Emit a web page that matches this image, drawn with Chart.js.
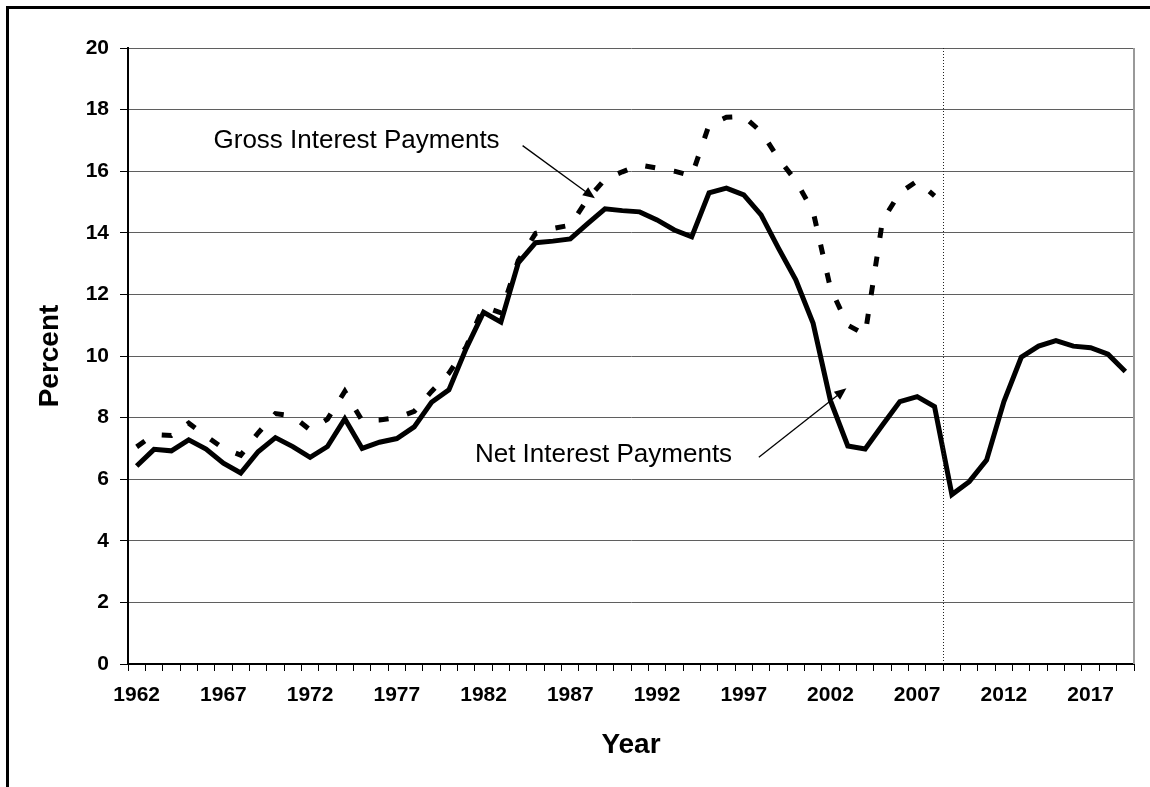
<!DOCTYPE html>
<html>
<head>
<meta charset="utf-8">
<title>Net and Gross Interest Payments</title>
<script src="https://cdn.jsdelivr.net/npm/chart.js@4.4.1/dist/chart.umd.min.js"></script>
<style>
  html, body { margin: 0; padding: 0; background: #fff; }
  #wrap { position: relative; width: 1150px; height: 787px; }
</style>
</head>
<body>
<div id="wrap"><canvas id="interestChart"></canvas></div>
<script>
// categories
var years = ["1962","1963","1964","1965","1966","1967","1968","1969","1970","1971",
             "1972","1973","1974","1975","1976","1977","1978","1979","1980","1981",
             "1982","1983","1984","1985","1986","1987","1988","1989","1990","1991",
             "1992","1993","1994","1995","1996","1997","1998","1999","2000","2001",
             "2002","2003","2004","2005","2006","2007","2008","2009","2010","2011",
             "2012","2013","2014","2015","2016","2017","2018","2019"];

// labels shown under the x axis
var tickYears = ["1962","1967","1972","1977","1982","1987","1992","1997","2002","2007","2012","2017"];

// Net interest payments (percent)
var netInterest = [6.43, 6.97, 6.92, 7.28, 6.98, 6.52, 6.20, 6.89, 7.35, 7.06,
                   6.71, 7.06, 7.96, 7.00, 7.20, 7.32, 7.70, 8.50, 8.90, 10.25,
                   11.42, 11.10, 13.02, 13.68, 13.73, 13.80, 14.30, 14.78, 14.72, 14.68,
                   14.42, 14.09, 13.87, 15.30, 15.45, 15.23, 14.58, 13.50, 12.47, 11.06,
                   8.55, 7.08, 6.98, 7.76, 8.52, 8.68, 8.36, 5.50, 5.92, 6.62,
                   8.52, 9.96, 10.32, 10.50, 10.32, 10.27, 10.06, 9.50];

// Gross interest payments (percent), stops in 2008
var grossInterest = [7.05, 7.45, 7.42, 7.82, 7.40, 7.00, 6.78, 7.50, 8.13, 8.05,
                     7.60, 7.95, 8.85, 7.90, 7.92, 8.00, 8.20, 8.85, 9.44, 10.30,
                     11.60, 11.40, 13.10, 13.98, 14.14, 14.25, 15.10, 15.74, 15.98, 16.20,
                     16.10, 16.00, 15.85, 17.50, 17.75, 17.78, 17.28, 16.42, 15.69, 14.69,
                     12.20, 11.00, 10.70, 14.40, 15.30, 15.68, 15.20, null, null, null,
                     null, null, null, null, null, null, null, null];

var fontFamily = '"Liberation Sans", Arial, Helvetica, sans-serif';

// frame, plot border, 2008/2009 divider and the two labelled arrows
var extras = {
    id: "extras",
    afterDraw: function (chart) {
        var ctx = chart.ctx;
        var area = chart.chartArea;
        var xs = chart.scales.x;
        var ys = chart.scales.y;
        var step = xs.getPixelForValue(1) - xs.getPixelForValue(0);
        function px(idx) { return xs.getPixelForValue(0) + idx * step; }
        function py(v) { return ys.getPixelForValue(v); }

        ctx.save();

        // outer frame (top and left only visible)
        ctx.strokeStyle = "#000";
        ctx.lineWidth = 3;
        ctx.beginPath();
        ctx.moveTo(1150, 7.5);
        ctx.lineTo(7.5, 7.5);
        ctx.lineTo(7.5, 787);
        ctx.stroke();

        // right border of plot
        ctx.strokeStyle = "#999";
        ctx.lineWidth = 2;
        ctx.beginPath();
        ctx.moveTo(area.right, area.top);
        ctx.lineTo(area.right, area.bottom);
        ctx.stroke();

        // dotted divider between 2008 and 2009
        var xd = Math.round(px(46.5)) + 0.5;
        ctx.strokeStyle = "#222";
        ctx.lineWidth = 1;
        ctx.setLineDash([1, 2]);
        ctx.beginPath();
        ctx.moveTo(xd, area.top);
        ctx.lineTo(xd, area.bottom);
        ctx.stroke();
        ctx.setLineDash([]);

        // labels
        ctx.fillStyle = "#000";
        ctx.font = "26px " + fontFamily;
        ctx.textAlign = "left";
        ctx.textBaseline = "alphabetic";
        ctx.fillText("Gross Interest Payments", px(4.43), py(16.75));
        ctx.fillText("Net Interest Payments", px(19.5), py(6.56));

        function arrow(x1, y1, x2, y2) {
            var a = Math.atan2(y2 - y1, x2 - x1);
            var len = 12, w = 5;
            ctx.strokeStyle = "#000";
            ctx.lineWidth = 1.3;
            ctx.beginPath();
            ctx.moveTo(x1, y1);
            ctx.lineTo(x2 - Math.cos(a) * len * 0.8, y2 - Math.sin(a) * len * 0.8);
            ctx.stroke();
            ctx.beginPath();
            ctx.moveTo(x2, y2);
            ctx.lineTo(x2 - Math.cos(a) * len - Math.sin(a) * w, y2 - Math.sin(a) * len + Math.cos(a) * w);
            ctx.lineTo(x2 - Math.cos(a) * len + Math.sin(a) * w, y2 - Math.sin(a) * len - Math.cos(a) * w);
            ctx.closePath();
            ctx.fill();
        }
        arrow(px(22.25), py(16.83), px(26.42), py(15.12));
        arrow(px(35.87), py(6.71), px(40.92), py(8.95));

        ctx.restore();
    }
};

var ctx = document.getElementById("interestChart").getContext("2d");

var myChart = new Chart(ctx, {
    type: "line",
    data: {
        labels: years,
        datasets: [
            {
                label: "Net Interest Payments",
                data: netInterest,
                borderColor: "#000",
                borderWidth: 5,
                pointRadius: 0,
                fill: false,
                tension: 0
            },
            {
                label: "Gross Interest Payments",
                data: grossInterest,
                borderColor: "#000",
                borderWidth: 5,
                borderDash: [10, 19],
                borderCapStyle: "butt",
                pointRadius: 0,
                fill: false,
                tension: 0,
                spanGaps: false
            }
        ]
    },
    options: {
        responsive: true,
        maintainAspectRatio: false,
        animation: false,
        layout: {
            padding: { top: 48, right: 16, bottom: 0, left: 0 }
        },
        plugins: {
            legend: { display: false },
            tooltip: { enabled: false }
        },
        scales: {
            x: {
                type: "category",
                offset: true,
                afterFit: function (scale) { scale.height = 123; },
                grid: {
                    offset: true,
                    drawOnChartArea: false,
                    drawTicks: true,
                    tickLength: 7,
                    tickColor: "#000",
                    lineWidth: 1
                },
                border: { display: true, color: "#000", width: 2 },
                ticks: {
                    autoSkip: false,
                    maxRotation: 0,
                    minRotation: 0,
                    padding: 12,
                    color: "#000",
                    font: { family: fontFamily, size: 21, weight: "bold" },
                    callback: function (value) {
                        var lab = this.getLabelForValue(value);
                        return tickYears.indexOf(lab) >= 0 ? lab : "";
                    }
                },
                title: {
                    display: true,
                    text: "Year",
                    color: "#000",
                    font: { family: fontFamily, size: 28, weight: "bold" },
                    padding: { top: 0, bottom: 25 }
                }
            },
            y: {
                min: 0,
                max: 20,
                afterFit: function (scale) { scale.width = 128; },
                grid: {
                    color: "#5f5f5f",
                    lineWidth: 1,
                    tickLength: 8,
                    tickColor: "#000"
                },
                border: { display: true, color: "#000", width: 2 },
                ticks: {
                    stepSize: 2,
                    padding: 11,
                    color: "#000",
                    font: { family: fontFamily, size: 21, weight: "bold" }
                },
                title: {
                    display: true,
                    text: "Percent",
                    color: "#000",
                    font: { family: fontFamily, size: 28, weight: "bold" },
                    padding: { top: 33, bottom: 0 }
                }
            }
        }
    },
    plugins: [extras]
});
</script>
</body>
</html>
